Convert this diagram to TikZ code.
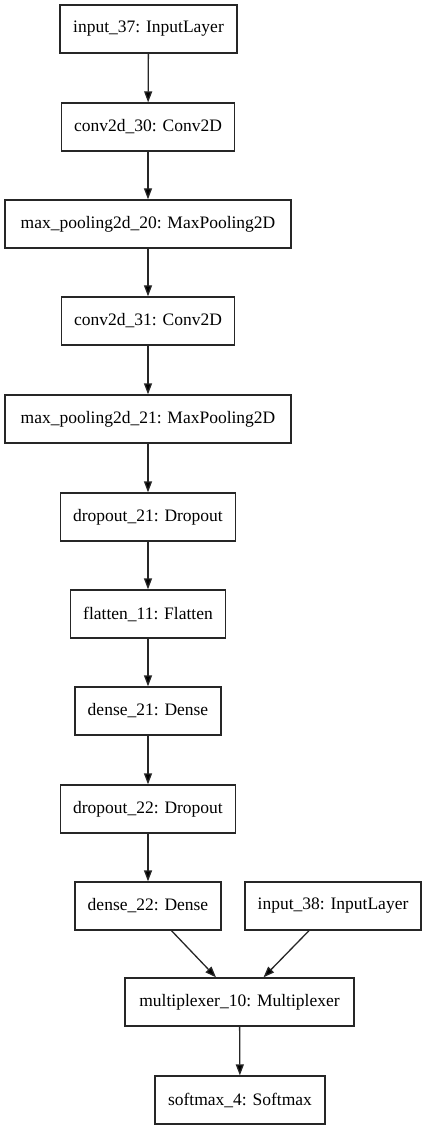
\documentclass[tikz,border=0pt]{standalone}
\usepackage{fontspec}
\setmainfont{Liberation Serif}
\usepackage{tikz}
\usetikzlibrary{arrows.meta}

\tikzset{
  layer/.style={draw=black!85, line width=1.3pt, minimum height=48pt, inner sep=0pt,
    font=\fontsize{17.5}{20}\selectfont},
}

\begin{document}
\begin{tikzpicture}[x=1pt,y=-1pt]
		\useasboundingbox (0,0) rectangle (427,1131);
		\node[layer, minimum width=177pt] (in37) at (148.5,29) {input\_37: InputLayer};
		\node[layer, minimum width=173pt] (conv30) at (148,127) {conv2d\_30: Conv2D};
		\node[layer, minimum width=286pt] (mp20) at (148,224) {max\_pooling2d\_20: MaxPooling2D};
		\node[layer, minimum width=173pt] (conv31) at (148,321) {conv2d\_31: Conv2D};
		\node[layer, minimum width=286pt] (mp21) at (148,419) {max\_pooling2d\_21: MaxPooling2D};
		\node[layer, minimum width=175pt] (drop21) at (148,517) {dropout\_21: Dropout};
		\node[layer, minimum width=155pt] (flat11) at (148,614) {flatten\_11: Flatten};
		\node[layer, minimum width=146pt] (dense21) at (148,711) {dense\_21: Dense};
		\node[layer, minimum width=175pt] (drop22) at (148,809) {dropout\_22: Dropout};
		\node[layer, minimum width=146pt] (dense22) at (148,906) {dense\_22: Dense};
		\node[layer, minimum width=176pt] (in38) at (333,906) {input\_38: InputLayer};
		\node[layer, minimum width=229pt] (mux10) at (239.5,1002) {multiplexer\_10: Multiplexer};
		\node[layer, minimum width=170pt] (soft4) at (240,1100) {softmax\_4: Softmax};
		%
		\path[-{Triangle[length=11pt,width=8pt]}, draw=black!85, line width=1.3pt]
		(in37) edge (conv30)
		(conv30) edge (mp20)
		(mp20) edge (conv31)
		(conv31) edge (mp21)
		(mp21) edge (drop21)
		(drop21) edge (flat11)
		(flat11) edge (dense21)
		(dense21) edge (drop22)
		(drop22) edge (dense22)
		(dense22) edge (mux10)
		(in38) edge (mux10)
		(mux10) edge (soft4);
		\end{tikzpicture}
\end{document}
